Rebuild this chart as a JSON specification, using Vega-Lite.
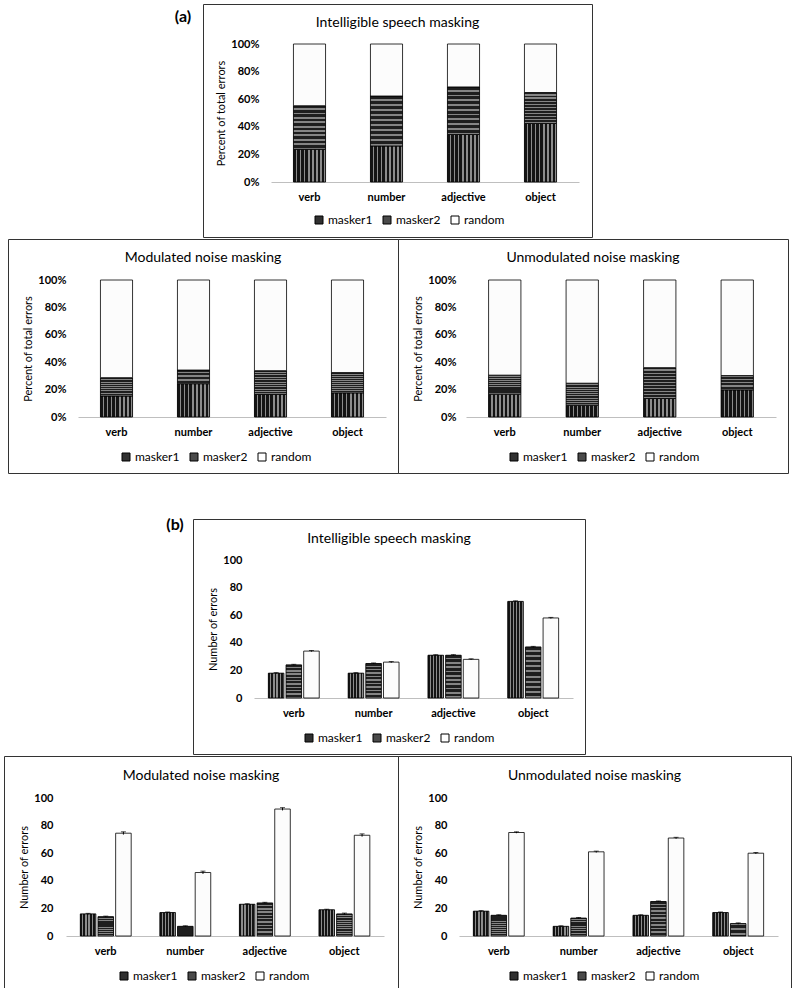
{
  "$schema": "https://vega.github.io/schema/vega-lite/v6.json",
  "padding": {"left": 3, "top": 3, "right": 0, "bottom": 0},
  "spacing": 0,
  "resolve": {"scale": {"color": "independent"}, "legend": {"color": "independent"}},
  "config": {
    "font": "Lato",
    "view": {"stroke": null},
    "axis": {"labelFont": "Lato", "labelFontWeight": "bold", "labelFontSize": 11, "labelColor": "#000", "titleFont": "Lato", "titleFontWeight": "normal", "titleFontSize": 11, "titleColor": "#000", "grid": false, "ticks": false, "tickSize": 0},
    "legend": {"orient": "none", "direction": "horizontal", "title": null, "symbolType": "square", "symbolSize": 64, "symbolStrokeColor": "#000", "symbolStrokeWidth": 1, "labelFontSize": 12, "labelFont": "Lato", "labelColor": "#000", "columnPadding": 8, "labelOffset": 3, "padding": 0},
    "title": {"font": "Lato", "fontSize": 14, "fontWeight": "normal", "color": "#000", "frame": "group", "anchor": "middle"}
  },
  "datasets": {
    "counts": [
      {"cond": "I", "cat": "verb", "series": "masker1", "n": 18, "lo": 17.6, "hi": 18.4},
      {"cond": "I", "cat": "verb", "series": "masker2", "n": 24, "lo": 23.6, "hi": 24.4},
      {"cond": "I", "cat": "verb", "series": "random", "n": 34, "lo": 33.6, "hi": 34.4},
      {"cond": "I", "cat": "number", "series": "masker1", "n": 18, "lo": 17.6, "hi": 18.4},
      {"cond": "I", "cat": "number", "series": "masker2", "n": 25, "lo": 24.6, "hi": 25.4},
      {"cond": "I", "cat": "number", "series": "random", "n": 26, "lo": 25.6, "hi": 26.4},
      {"cond": "I", "cat": "adjective", "series": "masker1", "n": 31, "lo": 30.6, "hi": 31.4},
      {"cond": "I", "cat": "adjective", "series": "masker2", "n": 31, "lo": 30.6, "hi": 31.4},
      {"cond": "I", "cat": "adjective", "series": "random", "n": 28, "lo": 27.6, "hi": 28.4},
      {"cond": "I", "cat": "object", "series": "masker1", "n": 70, "lo": 69.6, "hi": 70.4},
      {"cond": "I", "cat": "object", "series": "masker2", "n": 37, "lo": 36.6, "hi": 37.4},
      {"cond": "I", "cat": "object", "series": "random", "n": 58, "lo": 57.6, "hi": 58.4},
      {"cond": "M", "cat": "verb", "series": "masker1", "n": 16, "lo": 15.6, "hi": 16.4},
      {"cond": "M", "cat": "verb", "series": "masker2", "n": 14, "lo": 13.6, "hi": 14.4},
      {"cond": "M", "cat": "verb", "series": "random", "n": 74.5, "lo": 73.5, "hi": 75.5},
      {"cond": "M", "cat": "number", "series": "masker1", "n": 17, "lo": 16.6, "hi": 17.4},
      {"cond": "M", "cat": "number", "series": "masker2", "n": 7, "lo": 6.6, "hi": 7.4},
      {"cond": "M", "cat": "number", "series": "random", "n": 46, "lo": 45, "hi": 47},
      {"cond": "M", "cat": "adjective", "series": "masker1", "n": 23, "lo": 22.6, "hi": 23.4},
      {"cond": "M", "cat": "adjective", "series": "masker2", "n": 24, "lo": 23.6, "hi": 24.4},
      {"cond": "M", "cat": "adjective", "series": "random", "n": 92, "lo": 91, "hi": 93},
      {"cond": "M", "cat": "object", "series": "masker1", "n": 19, "lo": 18.6, "hi": 19.4},
      {"cond": "M", "cat": "object", "series": "masker2", "n": 16, "lo": 15.4, "hi": 16.6},
      {"cond": "M", "cat": "object", "series": "random", "n": 73, "lo": 72, "hi": 74},
      {"cond": "U", "cat": "verb", "series": "masker1", "n": 18, "lo": 17.6, "hi": 18.4},
      {"cond": "U", "cat": "verb", "series": "masker2", "n": 15, "lo": 14.6, "hi": 15.4},
      {"cond": "U", "cat": "verb", "series": "random", "n": 75, "lo": 74.5, "hi": 75.5},
      {"cond": "U", "cat": "number", "series": "masker1", "n": 7, "lo": 6.6, "hi": 7.4},
      {"cond": "U", "cat": "number", "series": "masker2", "n": 13, "lo": 12.6, "hi": 13.4},
      {"cond": "U", "cat": "number", "series": "random", "n": 61, "lo": 60.5, "hi": 61.5},
      {"cond": "U", "cat": "adjective", "series": "masker1", "n": 15, "lo": 14.6, "hi": 15.4},
      {"cond": "U", "cat": "adjective", "series": "masker2", "n": 25, "lo": 24.6, "hi": 25.4},
      {"cond": "U", "cat": "adjective", "series": "random", "n": 71, "lo": 70.5, "hi": 71.5},
      {"cond": "U", "cat": "object", "series": "masker1", "n": 17, "lo": 16.6, "hi": 17.4},
      {"cond": "U", "cat": "object", "series": "masker2", "n": 9, "lo": 8.5, "hi": 9.5},
      {"cond": "U", "cat": "object", "series": "random", "n": 60, "lo": 59.5, "hi": 60.5}
    ],
    "labels": [{"t": "(a)"}, {"t": "(b)"}, {"t": ""}]
  },
  "vconcat": [
    {
      "hconcat": [
        {"width": 159, "height": 10, "data": {"name": "labels"}, "transform": [{"filter": "datum.t === ''"}], "mark": "text", "encoding": {"text": {"field": "t"}}},
        {"width": 40, "height": 26, "data": {"name": "labels"}, "transform": [{"filter": "datum.t === '(a)'"}], "mark": {"type": "text", "fontSize": 16, "fontWeight": "bold", "font": "Lato"}, "encoding": {"text": {"field": "t"}}},
        {
          "width": 389, "height": 233,
          "view": {"stroke": "#333", "strokeWidth": 1},
          "title": {"text": "Intelligible speech masking", "offset": -26},
          "data": {"name": "counts"},
          "transform": [{"filter": "datum.cond === 'I'"}],
          "encoding": {
            "x": {"field": "cat", "type": "nominal", "sort": ["verb", "number", "adjective", "object"], "scale": {"range": [68, 376], "paddingInner": 0.583, "paddingOuter": 0.2915}, "axis": {"title": null, "labelAngle": 0, "offset": -55, "domainColor": "#bfbfbf", "labelPadding": 9}},
            "y": {"field": "n", "type": "quantitative", "stack": "normalize", "scale": {"domain": [0, 1], "range": [178, 40], "nice": false}, "axis": {"title": "Percent of total errors", "values": [0, 0.2, 0.4, 0.6, 0.8, 1], "format": ".0%", "domain": false, "offset": -59, "labelPadding": 3, "titlePadding": 4}},
            "order": {"field": "series", "sort": "ascending"}
          },
          "layer": [
            {"mark": {"type": "bar"}, "encoding": {"color": {"field": "series", "type": "nominal", "scale": {"domain": ["masker1", "masker2", "random"], "range": ["#303030", "#4a4a4a", "#ffffff"]}, "legend": {"legendX": 110, "legendY": 210}}}},
            {"mark": {"type": "bar", "stroke": "#000", "strokeWidth": 0.8}, "encoding": {"detail": {"field": "series"}, "fill": {"condition": [
              {"test": "datum.series === 'masker1'", "value": {"gradient": "linear", "x1": 0, "y1": 0, "x2": 1, "y2": 0, "stops": [{"offset": 0, "color": "#141414"}, {"offset": 0.075, "color": "#141414"}, {"offset": 0.075, "color": "#8c8c8c"}, {"offset": 0.125, "color": "#8c8c8c"}, {"offset": 0.125, "color": "#141414"}, {"offset": 0.2, "color": "#141414"}, {"offset": 0.2, "color": "#8c8c8c"}, {"offset": 0.25, "color": "#8c8c8c"}, {"offset": 0.25, "color": "#141414"}, {"offset": 0.325, "color": "#141414"}, {"offset": 0.325, "color": "#8c8c8c"}, {"offset": 0.375, "color": "#8c8c8c"}, {"offset": 0.375, "color": "#141414"}, {"offset": 0.45, "color": "#141414"}, {"offset": 0.45, "color": "#8c8c8c"}, {"offset": 0.5, "color": "#8c8c8c"}, {"offset": 0.5, "color": "#141414"}, {"offset": 0.575, "color": "#141414"}, {"offset": 0.575, "color": "#8c8c8c"}, {"offset": 0.625, "color": "#8c8c8c"}, {"offset": 0.625, "color": "#141414"}, {"offset": 0.7, "color": "#141414"}, {"offset": 0.7, "color": "#8c8c8c"}, {"offset": 0.75, "color": "#8c8c8c"}, {"offset": 0.75, "color": "#141414"}, {"offset": 0.825, "color": "#141414"}, {"offset": 0.825, "color": "#8c8c8c"}, {"offset": 0.875, "color": "#8c8c8c"}, {"offset": 0.875, "color": "#141414"}, {"offset": 0.95, "color": "#141414"}, {"offset": 0.95, "color": "#8c8c8c"}, {"offset": 1, "color": "#8c8c8c"}]}},
              {"test": "datum.series === 'masker2'", "value": {"gradient": "linear", "x1": 0, "y1": 0, "x2": 0, "y2": 1, "stops": [{"offset": 0, "color": "#1e1e1e"}, {"offset": 0.06, "color": "#1e1e1e"}, {"offset": 0.06, "color": "#858585"}, {"offset": 0.1, "color": "#858585"}, {"offset": 0.1, "color": "#1e1e1e"}, {"offset": 0.16, "color": "#1e1e1e"}, {"offset": 0.16, "color": "#858585"}, {"offset": 0.2, "color": "#858585"}, {"offset": 0.2, "color": "#1e1e1e"}, {"offset": 0.26, "color": "#1e1e1e"}, {"offset": 0.26, "color": "#858585"}, {"offset": 0.3, "color": "#858585"}, {"offset": 0.3, "color": "#1e1e1e"}, {"offset": 0.36, "color": "#1e1e1e"}, {"offset": 0.36, "color": "#858585"}, {"offset": 0.4, "color": "#858585"}, {"offset": 0.4, "color": "#1e1e1e"}, {"offset": 0.46, "color": "#1e1e1e"}, {"offset": 0.46, "color": "#858585"}, {"offset": 0.5, "color": "#858585"}, {"offset": 0.5, "color": "#1e1e1e"}, {"offset": 0.56, "color": "#1e1e1e"}, {"offset": 0.56, "color": "#858585"}, {"offset": 0.6, "color": "#858585"}, {"offset": 0.6, "color": "#1e1e1e"}, {"offset": 0.66, "color": "#1e1e1e"}, {"offset": 0.66, "color": "#858585"}, {"offset": 0.7, "color": "#858585"}, {"offset": 0.7, "color": "#1e1e1e"}, {"offset": 0.76, "color": "#1e1e1e"}, {"offset": 0.76, "color": "#858585"}, {"offset": 0.8, "color": "#858585"}, {"offset": 0.8, "color": "#1e1e1e"}, {"offset": 0.86, "color": "#1e1e1e"}, {"offset": 0.86, "color": "#858585"}, {"offset": 0.9, "color": "#858585"}, {"offset": 0.9, "color": "#1e1e1e"}, {"offset": 0.96, "color": "#1e1e1e"}, {"offset": 0.96, "color": "#858585"}, {"offset": 1, "color": "#858585"}]}}
            ], "value": "#fcfcfc"}}}
          ]
        }
      ],
      "spacing": 0, "bounds": "flush",
      "resolve": {"scale": {"color": "independent"}, "legend": {"color": "independent"}}
    },
    {
      "hconcat": [
        {"width": 4, "height": 10, "data": {"name": "labels"}, "transform": [{"filter": "datum.t === ''"}], "mark": "text", "encoding": {"text": {"field": "t"}}},
        {
          "width": 390, "height": 234,
          "view": {"stroke": "#333", "strokeWidth": 1},
          "title": {"text": "Modulated noise masking", "offset": -26},
          "data": {"name": "counts"},
          "transform": [{"filter": "datum.cond === 'M'"}],
          "encoding": {
            "x": {"field": "cat", "type": "nominal", "sort": ["verb", "number", "adjective", "object"], "scale": {"range": [70, 378], "paddingInner": 0.583, "paddingOuter": 0.2915}, "axis": {"title": null, "labelAngle": 0, "offset": -56, "domainColor": "#bfbfbf", "labelPadding": 9}},
            "y": {"field": "n", "type": "quantitative", "stack": "normalize", "scale": {"domain": [0, 1], "range": [178, 41], "nice": false}, "axis": {"title": "Percent of total errors", "values": [0, 0.2, 0.4, 0.6, 0.8, 1], "format": ".0%", "domain": false, "offset": -61, "labelPadding": 3, "titlePadding": 4}},
            "order": {"field": "series", "sort": "ascending"}
          },
          "layer": [
            {"mark": {"type": "bar"}, "encoding": {"color": {"field": "series", "type": "nominal", "scale": {"domain": ["masker1", "masker2", "random"], "range": ["#303030", "#4a4a4a", "#ffffff"]}, "legend": {"legendX": 112, "legendY": 212}}}},
            {"mark": {"type": "bar", "stroke": "#000", "strokeWidth": 0.8}, "encoding": {"detail": {"field": "series"}, "fill": {"condition": [
              {"test": "datum.series === 'masker1'", "value": {"gradient": "linear", "x1": 0, "y1": 0, "x2": 1, "y2": 0, "stops": [{"offset": 0, "color": "#141414"}, {"offset": 0.075, "color": "#141414"}, {"offset": 0.075, "color": "#8c8c8c"}, {"offset": 0.125, "color": "#8c8c8c"}, {"offset": 0.125, "color": "#141414"}, {"offset": 0.2, "color": "#141414"}, {"offset": 0.2, "color": "#8c8c8c"}, {"offset": 0.25, "color": "#8c8c8c"}, {"offset": 0.25, "color": "#141414"}, {"offset": 0.325, "color": "#141414"}, {"offset": 0.325, "color": "#8c8c8c"}, {"offset": 0.375, "color": "#8c8c8c"}, {"offset": 0.375, "color": "#141414"}, {"offset": 0.45, "color": "#141414"}, {"offset": 0.45, "color": "#8c8c8c"}, {"offset": 0.5, "color": "#8c8c8c"}, {"offset": 0.5, "color": "#141414"}, {"offset": 0.575, "color": "#141414"}, {"offset": 0.575, "color": "#8c8c8c"}, {"offset": 0.625, "color": "#8c8c8c"}, {"offset": 0.625, "color": "#141414"}, {"offset": 0.7, "color": "#141414"}, {"offset": 0.7, "color": "#8c8c8c"}, {"offset": 0.75, "color": "#8c8c8c"}, {"offset": 0.75, "color": "#141414"}, {"offset": 0.825, "color": "#141414"}, {"offset": 0.825, "color": "#8c8c8c"}, {"offset": 0.875, "color": "#8c8c8c"}, {"offset": 0.875, "color": "#141414"}, {"offset": 0.95, "color": "#141414"}, {"offset": 0.95, "color": "#8c8c8c"}, {"offset": 1, "color": "#8c8c8c"}]}},
              {"test": "datum.series === 'masker2'", "value": {"gradient": "linear", "x1": 0, "y1": 0, "x2": 0, "y2": 1, "stops": [{"offset": 0, "color": "#1e1e1e"}, {"offset": 0.06, "color": "#1e1e1e"}, {"offset": 0.06, "color": "#858585"}, {"offset": 0.1, "color": "#858585"}, {"offset": 0.1, "color": "#1e1e1e"}, {"offset": 0.16, "color": "#1e1e1e"}, {"offset": 0.16, "color": "#858585"}, {"offset": 0.2, "color": "#858585"}, {"offset": 0.2, "color": "#1e1e1e"}, {"offset": 0.26, "color": "#1e1e1e"}, {"offset": 0.26, "color": "#858585"}, {"offset": 0.3, "color": "#858585"}, {"offset": 0.3, "color": "#1e1e1e"}, {"offset": 0.36, "color": "#1e1e1e"}, {"offset": 0.36, "color": "#858585"}, {"offset": 0.4, "color": "#858585"}, {"offset": 0.4, "color": "#1e1e1e"}, {"offset": 0.46, "color": "#1e1e1e"}, {"offset": 0.46, "color": "#858585"}, {"offset": 0.5, "color": "#858585"}, {"offset": 0.5, "color": "#1e1e1e"}, {"offset": 0.56, "color": "#1e1e1e"}, {"offset": 0.56, "color": "#858585"}, {"offset": 0.6, "color": "#858585"}, {"offset": 0.6, "color": "#1e1e1e"}, {"offset": 0.66, "color": "#1e1e1e"}, {"offset": 0.66, "color": "#858585"}, {"offset": 0.7, "color": "#858585"}, {"offset": 0.7, "color": "#1e1e1e"}, {"offset": 0.76, "color": "#1e1e1e"}, {"offset": 0.76, "color": "#858585"}, {"offset": 0.8, "color": "#858585"}, {"offset": 0.8, "color": "#1e1e1e"}, {"offset": 0.86, "color": "#1e1e1e"}, {"offset": 0.86, "color": "#858585"}, {"offset": 0.9, "color": "#858585"}, {"offset": 0.9, "color": "#1e1e1e"}, {"offset": 0.96, "color": "#1e1e1e"}, {"offset": 0.96, "color": "#858585"}, {"offset": 1, "color": "#858585"}]}}
            ], "value": "#fcfcfc"}}}
          ]
        },
        {
          "width": 390, "height": 234,
          "view": {"stroke": "#333", "strokeWidth": 1},
          "title": {"text": "Unmodulated noise masking", "offset": -26},
          "data": {"name": "counts"},
          "transform": [{"filter": "datum.cond === 'U'"}],
          "encoding": {
            "x": {"field": "cat", "type": "nominal", "sort": ["verb", "number", "adjective", "object"], "scale": {"range": [68, 378], "paddingInner": 0.583, "paddingOuter": 0.2915}, "axis": {"title": null, "labelAngle": 0, "offset": -56, "domainColor": "#bfbfbf", "labelPadding": 9}},
            "y": {"field": "n", "type": "quantitative", "stack": "normalize", "scale": {"domain": [0, 1], "range": [178, 41], "nice": false}, "axis": {"title": "Percent of total errors", "values": [0, 0.2, 0.4, 0.6, 0.8, 1], "format": ".0%", "domain": false, "offset": -61, "labelPadding": 3, "titlePadding": 4}},
            "order": {"field": "series", "sort": "ascending"}
          },
          "layer": [
            {"mark": {"type": "bar"}, "encoding": {"color": {"field": "series", "type": "nominal", "scale": {"domain": ["masker1", "masker2", "random"], "range": ["#303030", "#4a4a4a", "#ffffff"]}, "legend": {"legendX": 110, "legendY": 212}}}},
            {"mark": {"type": "bar", "stroke": "#000", "strokeWidth": 0.8}, "encoding": {"detail": {"field": "series"}, "fill": {"condition": [
              {"test": "datum.series === 'masker1'", "value": {"gradient": "linear", "x1": 0, "y1": 0, "x2": 1, "y2": 0, "stops": [{"offset": 0, "color": "#141414"}, {"offset": 0.075, "color": "#141414"}, {"offset": 0.075, "color": "#8c8c8c"}, {"offset": 0.125, "color": "#8c8c8c"}, {"offset": 0.125, "color": "#141414"}, {"offset": 0.2, "color": "#141414"}, {"offset": 0.2, "color": "#8c8c8c"}, {"offset": 0.25, "color": "#8c8c8c"}, {"offset": 0.25, "color": "#141414"}, {"offset": 0.325, "color": "#141414"}, {"offset": 0.325, "color": "#8c8c8c"}, {"offset": 0.375, "color": "#8c8c8c"}, {"offset": 0.375, "color": "#141414"}, {"offset": 0.45, "color": "#141414"}, {"offset": 0.45, "color": "#8c8c8c"}, {"offset": 0.5, "color": "#8c8c8c"}, {"offset": 0.5, "color": "#141414"}, {"offset": 0.575, "color": "#141414"}, {"offset": 0.575, "color": "#8c8c8c"}, {"offset": 0.625, "color": "#8c8c8c"}, {"offset": 0.625, "color": "#141414"}, {"offset": 0.7, "color": "#141414"}, {"offset": 0.7, "color": "#8c8c8c"}, {"offset": 0.75, "color": "#8c8c8c"}, {"offset": 0.75, "color": "#141414"}, {"offset": 0.825, "color": "#141414"}, {"offset": 0.825, "color": "#8c8c8c"}, {"offset": 0.875, "color": "#8c8c8c"}, {"offset": 0.875, "color": "#141414"}, {"offset": 0.95, "color": "#141414"}, {"offset": 0.95, "color": "#8c8c8c"}, {"offset": 1, "color": "#8c8c8c"}]}},
              {"test": "datum.series === 'masker2'", "value": {"gradient": "linear", "x1": 0, "y1": 0, "x2": 0, "y2": 1, "stops": [{"offset": 0, "color": "#1e1e1e"}, {"offset": 0.06, "color": "#1e1e1e"}, {"offset": 0.06, "color": "#858585"}, {"offset": 0.1, "color": "#858585"}, {"offset": 0.1, "color": "#1e1e1e"}, {"offset": 0.16, "color": "#1e1e1e"}, {"offset": 0.16, "color": "#858585"}, {"offset": 0.2, "color": "#858585"}, {"offset": 0.2, "color": "#1e1e1e"}, {"offset": 0.26, "color": "#1e1e1e"}, {"offset": 0.26, "color": "#858585"}, {"offset": 0.3, "color": "#858585"}, {"offset": 0.3, "color": "#1e1e1e"}, {"offset": 0.36, "color": "#1e1e1e"}, {"offset": 0.36, "color": "#858585"}, {"offset": 0.4, "color": "#858585"}, {"offset": 0.4, "color": "#1e1e1e"}, {"offset": 0.46, "color": "#1e1e1e"}, {"offset": 0.46, "color": "#858585"}, {"offset": 0.5, "color": "#858585"}, {"offset": 0.5, "color": "#1e1e1e"}, {"offset": 0.56, "color": "#1e1e1e"}, {"offset": 0.56, "color": "#858585"}, {"offset": 0.6, "color": "#858585"}, {"offset": 0.6, "color": "#1e1e1e"}, {"offset": 0.66, "color": "#1e1e1e"}, {"offset": 0.66, "color": "#858585"}, {"offset": 0.7, "color": "#858585"}, {"offset": 0.7, "color": "#1e1e1e"}, {"offset": 0.76, "color": "#1e1e1e"}, {"offset": 0.76, "color": "#858585"}, {"offset": 0.8, "color": "#858585"}, {"offset": 0.8, "color": "#1e1e1e"}, {"offset": 0.86, "color": "#1e1e1e"}, {"offset": 0.86, "color": "#858585"}, {"offset": 0.9, "color": "#858585"}, {"offset": 0.9, "color": "#1e1e1e"}, {"offset": 0.96, "color": "#1e1e1e"}, {"offset": 0.96, "color": "#858585"}, {"offset": 1, "color": "#858585"}]}}
            ], "value": "#fcfcfc"}}}
          ]
        }
      ],
      "spacing": 0, "bounds": "flush",
      "resolve": {"scale": {"color": "independent"}, "legend": {"color": "independent"}}
    },
    {"width": 10, "height": 43, "data": {"name": "labels"}, "transform": [{"filter": "datum.t === ''"}], "mark": "text", "encoding": {"text": {"field": "t"}}},
    {
      "hconcat": [
        {"width": 153, "height": 10, "data": {"name": "labels"}, "transform": [{"filter": "datum.t === ''"}], "mark": "text", "encoding": {"text": {"field": "t"}}},
        {"width": 36, "height": 12, "data": {"name": "labels"}, "transform": [{"filter": "datum.t === '(b)'"}], "mark": {"type": "text", "fontSize": 16, "fontWeight": "bold", "font": "Lato"}, "encoding": {"text": {"field": "t"}}},
        {
          "width": 392, "height": 235,
          "view": {"stroke": "#333", "strokeWidth": 1},
          "title": {"text": "Intelligible speech masking", "offset": -27},
          "data": {"name": "counts"},
          "transform": [{"filter": "datum.cond === 'I'"}],
          "encoding": {
            "x": {"field": "cat", "type": "nominal", "sort": ["verb", "number", "adjective", "object"], "scale": {"range": [61, 380], "paddingInner": 0.3625, "paddingOuter": 0.18}, "axis": {"title": null, "labelAngle": 0, "offset": -56, "domainColor": "#bfbfbf", "labelPadding": 9}},
            "xOffset": {"field": "series", "type": "nominal", "scale": {"paddingInner": 0.12}}
          },
          "layer": [
            {"mark": {"type": "bar"},
             "encoding": {
               "y": {"field": "n", "type": "quantitative", "stack": null, "scale": {"domain": [0, 100], "range": [179, 41], "nice": false}, "axis": {"title": "Number of errors", "values": [0, 20, 40, 60, 80, 100], "domain": false, "offset": -52, "labelPadding": 3, "titlePadding": 4}},
               "color": {"field": "series", "type": "nominal", "scale": {"domain": ["masker1", "masker2", "random"], "range": ["#303030", "#4a4a4a", "#ffffff"]}, "legend": {"legendX": 110, "legendY": 213}}
             }},
            {"mark": {"type": "bar", "stroke": "#000", "strokeWidth": 0.8},
             "encoding": {
               "y": {"field": "n", "type": "quantitative", "stack": null},
               "fill": {"condition": [
                 {"test": "datum.series === 'masker1'", "value": {"gradient": "linear", "x1": 0, "y1": 0, "x2": 1, "y2": 0, "stops": [{"offset": 0, "color": "#141414"}, {"offset": 0.12, "color": "#141414"}, {"offset": 0.12, "color": "#8c8c8c"}, {"offset": 0.2, "color": "#8c8c8c"}, {"offset": 0.2, "color": "#141414"}, {"offset": 0.32, "color": "#141414"}, {"offset": 0.32, "color": "#8c8c8c"}, {"offset": 0.4, "color": "#8c8c8c"}, {"offset": 0.4, "color": "#141414"}, {"offset": 0.52, "color": "#141414"}, {"offset": 0.52, "color": "#8c8c8c"}, {"offset": 0.6, "color": "#8c8c8c"}, {"offset": 0.6, "color": "#141414"}, {"offset": 0.72, "color": "#141414"}, {"offset": 0.72, "color": "#8c8c8c"}, {"offset": 0.8, "color": "#8c8c8c"}, {"offset": 0.8, "color": "#141414"}, {"offset": 0.92, "color": "#141414"}, {"offset": 0.92, "color": "#8c8c8c"}, {"offset": 1, "color": "#8c8c8c"}]}},
                 {"test": "datum.series === 'masker2'", "value": {"gradient": "linear", "x1": 0, "y1": 0, "x2": 0, "y2": 1, "stops": [{"offset": 0, "color": "#1e1e1e"}, {"offset": 0.06, "color": "#1e1e1e"}, {"offset": 0.06, "color": "#858585"}, {"offset": 0.1, "color": "#858585"}, {"offset": 0.1, "color": "#1e1e1e"}, {"offset": 0.16, "color": "#1e1e1e"}, {"offset": 0.16, "color": "#858585"}, {"offset": 0.2, "color": "#858585"}, {"offset": 0.2, "color": "#1e1e1e"}, {"offset": 0.26, "color": "#1e1e1e"}, {"offset": 0.26, "color": "#858585"}, {"offset": 0.3, "color": "#858585"}, {"offset": 0.3, "color": "#1e1e1e"}, {"offset": 0.36, "color": "#1e1e1e"}, {"offset": 0.36, "color": "#858585"}, {"offset": 0.4, "color": "#858585"}, {"offset": 0.4, "color": "#1e1e1e"}, {"offset": 0.46, "color": "#1e1e1e"}, {"offset": 0.46, "color": "#858585"}, {"offset": 0.5, "color": "#858585"}, {"offset": 0.5, "color": "#1e1e1e"}, {"offset": 0.56, "color": "#1e1e1e"}, {"offset": 0.56, "color": "#858585"}, {"offset": 0.6, "color": "#858585"}, {"offset": 0.6, "color": "#1e1e1e"}, {"offset": 0.66, "color": "#1e1e1e"}, {"offset": 0.66, "color": "#858585"}, {"offset": 0.7, "color": "#858585"}, {"offset": 0.7, "color": "#1e1e1e"}, {"offset": 0.76, "color": "#1e1e1e"}, {"offset": 0.76, "color": "#858585"}, {"offset": 0.8, "color": "#858585"}, {"offset": 0.8, "color": "#1e1e1e"}, {"offset": 0.86, "color": "#1e1e1e"}, {"offset": 0.86, "color": "#858585"}, {"offset": 0.9, "color": "#858585"}, {"offset": 0.9, "color": "#1e1e1e"}, {"offset": 0.96, "color": "#1e1e1e"}, {"offset": 0.96, "color": "#858585"}, {"offset": 1, "color": "#858585"}]}}
               ], "value": "#fcfcfc"}
             }},
            {"mark": {"type": "rule", "color": "#000", "strokeWidth": 1}, "encoding": {"y": {"field": "lo", "type": "quantitative"}, "y2": {"field": "hi"}}},
            {"mark": {"type": "tick", "color": "#000", "thickness": 1, "size": 5, "orient": "horizontal"}, "encoding": {"y": {"field": "hi", "type": "quantitative"}}}
          ]
        }
      ],
      "spacing": 0, "bounds": "flush",
      "resolve": {"scale": {"color": "independent"}, "legend": {"color": "independent"}}
    },
    {
      "hconcat": [
        {
          "width": 394, "height": 235,
          "view": {"stroke": "#333", "strokeWidth": 1},
          "title": {"text": "Modulated noise masking", "offset": -27},
          "data": {"name": "counts"},
          "transform": [{"filter": "datum.cond === 'M'"}],
          "encoding": {
            "x": {"field": "cat", "type": "nominal", "sort": ["verb", "number", "adjective", "object"], "scale": {"range": [62, 380], "paddingInner": 0.3625, "paddingOuter": 0.18}, "axis": {"title": null, "labelAngle": 0, "offset": -55, "domainColor": "#bfbfbf", "labelPadding": 9}},
            "xOffset": {"field": "series", "type": "nominal", "scale": {"paddingInner": 0.12}}
          },
          "layer": [
            {"mark": {"type": "bar"},
             "encoding": {
               "y": {"field": "n", "type": "quantitative", "stack": null, "scale": {"domain": [0, 100], "range": [180, 42], "nice": false}, "axis": {"title": "Number of errors", "values": [0, 20, 40, 60, 80, 100], "domain": false, "offset": -52, "labelPadding": 3, "titlePadding": 4}},
               "color": {"field": "series", "type": "nominal", "scale": {"domain": ["masker1", "masker2", "random"], "range": ["#303030", "#4a4a4a", "#ffffff"]}, "legend": {"legendX": 114, "legendY": 214}}
             }},
            {"mark": {"type": "bar", "stroke": "#000", "strokeWidth": 0.8},
             "encoding": {
               "y": {"field": "n", "type": "quantitative", "stack": null},
               "fill": {"condition": [
                 {"test": "datum.series === 'masker1'", "value": {"gradient": "linear", "x1": 0, "y1": 0, "x2": 1, "y2": 0, "stops": [{"offset": 0, "color": "#141414"}, {"offset": 0.12, "color": "#141414"}, {"offset": 0.12, "color": "#8c8c8c"}, {"offset": 0.2, "color": "#8c8c8c"}, {"offset": 0.2, "color": "#141414"}, {"offset": 0.32, "color": "#141414"}, {"offset": 0.32, "color": "#8c8c8c"}, {"offset": 0.4, "color": "#8c8c8c"}, {"offset": 0.4, "color": "#141414"}, {"offset": 0.52, "color": "#141414"}, {"offset": 0.52, "color": "#8c8c8c"}, {"offset": 0.6, "color": "#8c8c8c"}, {"offset": 0.6, "color": "#141414"}, {"offset": 0.72, "color": "#141414"}, {"offset": 0.72, "color": "#8c8c8c"}, {"offset": 0.8, "color": "#8c8c8c"}, {"offset": 0.8, "color": "#141414"}, {"offset": 0.92, "color": "#141414"}, {"offset": 0.92, "color": "#8c8c8c"}, {"offset": 1, "color": "#8c8c8c"}]}},
                 {"test": "datum.series === 'masker2'", "value": {"gradient": "linear", "x1": 0, "y1": 0, "x2": 0, "y2": 1, "stops": [{"offset": 0, "color": "#1e1e1e"}, {"offset": 0.06, "color": "#1e1e1e"}, {"offset": 0.06, "color": "#858585"}, {"offset": 0.1, "color": "#858585"}, {"offset": 0.1, "color": "#1e1e1e"}, {"offset": 0.16, "color": "#1e1e1e"}, {"offset": 0.16, "color": "#858585"}, {"offset": 0.2, "color": "#858585"}, {"offset": 0.2, "color": "#1e1e1e"}, {"offset": 0.26, "color": "#1e1e1e"}, {"offset": 0.26, "color": "#858585"}, {"offset": 0.3, "color": "#858585"}, {"offset": 0.3, "color": "#1e1e1e"}, {"offset": 0.36, "color": "#1e1e1e"}, {"offset": 0.36, "color": "#858585"}, {"offset": 0.4, "color": "#858585"}, {"offset": 0.4, "color": "#1e1e1e"}, {"offset": 0.46, "color": "#1e1e1e"}, {"offset": 0.46, "color": "#858585"}, {"offset": 0.5, "color": "#858585"}, {"offset": 0.5, "color": "#1e1e1e"}, {"offset": 0.56, "color": "#1e1e1e"}, {"offset": 0.56, "color": "#858585"}, {"offset": 0.6, "color": "#858585"}, {"offset": 0.6, "color": "#1e1e1e"}, {"offset": 0.66, "color": "#1e1e1e"}, {"offset": 0.66, "color": "#858585"}, {"offset": 0.7, "color": "#858585"}, {"offset": 0.7, "color": "#1e1e1e"}, {"offset": 0.76, "color": "#1e1e1e"}, {"offset": 0.76, "color": "#858585"}, {"offset": 0.8, "color": "#858585"}, {"offset": 0.8, "color": "#1e1e1e"}, {"offset": 0.86, "color": "#1e1e1e"}, {"offset": 0.86, "color": "#858585"}, {"offset": 0.9, "color": "#858585"}, {"offset": 0.9, "color": "#1e1e1e"}, {"offset": 0.96, "color": "#1e1e1e"}, {"offset": 0.96, "color": "#858585"}, {"offset": 1, "color": "#858585"}]}}
               ], "value": "#fcfcfc"}
             }},
            {"mark": {"type": "rule", "color": "#000", "strokeWidth": 1}, "encoding": {"y": {"field": "lo", "type": "quantitative"}, "y2": {"field": "hi"}}},
            {"mark": {"type": "tick", "color": "#000", "thickness": 1, "size": 5, "orient": "horizontal"}, "encoding": {"y": {"field": "hi", "type": "quantitative"}}}
          ]
        },
        {
          "width": 393, "height": 235,
          "view": {"stroke": "#333", "strokeWidth": 1},
          "title": {"text": "Unmodulated noise masking", "offset": -27},
          "data": {"name": "counts"},
          "transform": [{"filter": "datum.cond === 'U'"}],
          "encoding": {
            "x": {"field": "cat", "type": "nominal", "sort": ["verb", "number", "adjective", "object"], "scale": {"range": [61, 380], "paddingInner": 0.3625, "paddingOuter": 0.18}, "axis": {"title": null, "labelAngle": 0, "offset": -55, "domainColor": "#bfbfbf", "labelPadding": 9}},
            "xOffset": {"field": "series", "type": "nominal", "scale": {"paddingInner": 0.12}}
          },
          "layer": [
            {"mark": {"type": "bar"},
             "encoding": {
               "y": {"field": "n", "type": "quantitative", "stack": null, "scale": {"domain": [0, 100], "range": [180, 42], "nice": false}, "axis": {"title": "Number of errors", "values": [0, 20, 40, 60, 80, 100], "domain": false, "offset": -52, "labelPadding": 3, "titlePadding": 4}},
               "color": {"field": "series", "type": "nominal", "scale": {"domain": ["masker1", "masker2", "random"], "range": ["#303030", "#4a4a4a", "#ffffff"]}, "legend": {"legendX": 110, "legendY": 214}}
             }},
            {"mark": {"type": "bar", "stroke": "#000", "strokeWidth": 0.8},
             "encoding": {
               "y": {"field": "n", "type": "quantitative", "stack": null},
               "fill": {"condition": [
                 {"test": "datum.series === 'masker1'", "value": {"gradient": "linear", "x1": 0, "y1": 0, "x2": 1, "y2": 0, "stops": [{"offset": 0, "color": "#141414"}, {"offset": 0.12, "color": "#141414"}, {"offset": 0.12, "color": "#8c8c8c"}, {"offset": 0.2, "color": "#8c8c8c"}, {"offset": 0.2, "color": "#141414"}, {"offset": 0.32, "color": "#141414"}, {"offset": 0.32, "color": "#8c8c8c"}, {"offset": 0.4, "color": "#8c8c8c"}, {"offset": 0.4, "color": "#141414"}, {"offset": 0.52, "color": "#141414"}, {"offset": 0.52, "color": "#8c8c8c"}, {"offset": 0.6, "color": "#8c8c8c"}, {"offset": 0.6, "color": "#141414"}, {"offset": 0.72, "color": "#141414"}, {"offset": 0.72, "color": "#8c8c8c"}, {"offset": 0.8, "color": "#8c8c8c"}, {"offset": 0.8, "color": "#141414"}, {"offset": 0.92, "color": "#141414"}, {"offset": 0.92, "color": "#8c8c8c"}, {"offset": 1, "color": "#8c8c8c"}]}},
                 {"test": "datum.series === 'masker2'", "value": {"gradient": "linear", "x1": 0, "y1": 0, "x2": 0, "y2": 1, "stops": [{"offset": 0, "color": "#1e1e1e"}, {"offset": 0.06, "color": "#1e1e1e"}, {"offset": 0.06, "color": "#858585"}, {"offset": 0.1, "color": "#858585"}, {"offset": 0.1, "color": "#1e1e1e"}, {"offset": 0.16, "color": "#1e1e1e"}, {"offset": 0.16, "color": "#858585"}, {"offset": 0.2, "color": "#858585"}, {"offset": 0.2, "color": "#1e1e1e"}, {"offset": 0.26, "color": "#1e1e1e"}, {"offset": 0.26, "color": "#858585"}, {"offset": 0.3, "color": "#858585"}, {"offset": 0.3, "color": "#1e1e1e"}, {"offset": 0.36, "color": "#1e1e1e"}, {"offset": 0.36, "color": "#858585"}, {"offset": 0.4, "color": "#858585"}, {"offset": 0.4, "color": "#1e1e1e"}, {"offset": 0.46, "color": "#1e1e1e"}, {"offset": 0.46, "color": "#858585"}, {"offset": 0.5, "color": "#858585"}, {"offset": 0.5, "color": "#1e1e1e"}, {"offset": 0.56, "color": "#1e1e1e"}, {"offset": 0.56, "color": "#858585"}, {"offset": 0.6, "color": "#858585"}, {"offset": 0.6, "color": "#1e1e1e"}, {"offset": 0.66, "color": "#1e1e1e"}, {"offset": 0.66, "color": "#858585"}, {"offset": 0.7, "color": "#858585"}, {"offset": 0.7, "color": "#1e1e1e"}, {"offset": 0.76, "color": "#1e1e1e"}, {"offset": 0.76, "color": "#858585"}, {"offset": 0.8, "color": "#858585"}, {"offset": 0.8, "color": "#1e1e1e"}, {"offset": 0.86, "color": "#1e1e1e"}, {"offset": 0.86, "color": "#858585"}, {"offset": 0.9, "color": "#858585"}, {"offset": 0.9, "color": "#1e1e1e"}, {"offset": 0.96, "color": "#1e1e1e"}, {"offset": 0.96, "color": "#858585"}, {"offset": 1, "color": "#858585"}]}}
               ], "value": "#fcfcfc"}
             }},
            {"mark": {"type": "rule", "color": "#000", "strokeWidth": 1}, "encoding": {"y": {"field": "lo", "type": "quantitative"}, "y2": {"field": "hi"}}},
            {"mark": {"type": "tick", "color": "#000", "thickness": 1, "size": 5, "orient": "horizontal"}, "encoding": {"y": {"field": "hi", "type": "quantitative"}}}
          ]
        }
      ],
      "spacing": 0, "bounds": "flush",
      "resolve": {"scale": {"color": "independent"}, "legend": {"color": "independent"}}
    }
  ]
}
